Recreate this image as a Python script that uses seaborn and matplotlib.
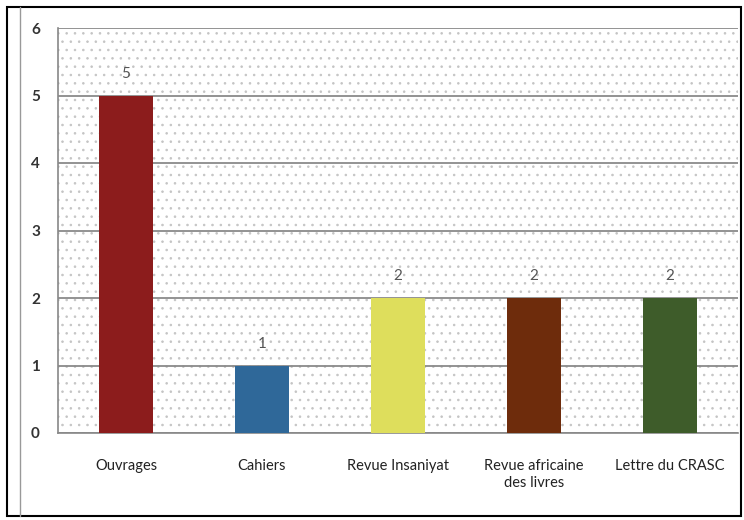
import matplotlib
matplotlib.use("Agg")
import matplotlib.pyplot as plt
import seaborn as sns
import pandas as pd
from matplotlib.patches import Rectangle
from matplotlib.lines import Line2D

categories = ["Ouvrages", "Cahiers", "Revue Insaniyat", "Revue africaine\ndes livres", "Lettre du CRASC"]
values = [5, 1, 2, 2, 2]
colors = ["#8c1c1c", "#2f6899", "#dede5c", "#6e2c0c", "#3e5c2a"]
y_ticks = [0, 1, 2, 3, 4, 5, 6]

sns.set_style("white")
plt.rcParams['font.family'] = ['Lato', 'DejaVu Sans']
plt.rcParams['hatch.color'] = '#c4c4c4'
plt.rcParams['hatch.linewidth'] = 0.6

df = pd.DataFrame({'cat': categories, 'val': values})

fig = plt.figure(figsize=(7.44, 5.2), dpi=100)
ax = fig.add_axes([58/744, 87/520, 680/744, 405/520])

# dotted background
ax.add_patch(Rectangle((0, 0), 1, 1, transform=ax.transAxes, facecolor='white',
                       edgecolor='#c4c4c4', hatch='..', linewidth=0, zorder=0))

ax.set_axisbelow(True)
ax.yaxis.grid(True, color='#8a8a8a', linewidth=1.3)
ax.xaxis.grid(False)

sns.barplot(data=df, x='cat', y='val', hue='cat', palette=colors, legend=False,
            width=0.4, ax=ax, zorder=3, edgecolor='none', saturation=1)

for i, v in enumerate(values):
    ax.text(i, v + 0.22, str(v), ha='center', va='bottom', fontsize=11, color='#555555')

ax.set_ylim(0, 6)
ax.set_xlim(-0.5, len(categories) - 0.5)
ax.set_yticks(y_ticks)
ax.set_yticklabels([str(t) for t in y_ticks], fontsize=11, fontweight='bold', color='#333333')
ax.set_xticks([i - 0.5 for i in range(1, len(categories) + 1)], minor=False)
ax.set_xticklabels([])
ax.set_xticks(range(len(categories)), minor=True)
ax.set_xticklabels(categories, minor=True, fontsize=10.5, color='#222222')
ax.tick_params(axis='x', which='minor', length=0, pad=19)
ax.tick_params(axis='x', which='major', length=6, color='#888888', direction='out')
ax.tick_params(axis='y', length=6, color='#888888', direction='out', pad=7)
ax.set_xlabel('')
ax.set_ylabel('')

for s in ['top', 'right']:
    ax.spines[s].set_visible(False)
for s in ['left', 'bottom']:
    ax.spines[s].set_color('#888888')
    ax.spines[s].set_linewidth(1.2)

# frame
fig.patches.append(Rectangle((7/744, 4/520), 734/744, 509/520, transform=fig.transFigure,
                             fill=False, edgecolor='black', linewidth=1.5))
fig.lines.append(Line2D([20/744, 20/744], [4/520, 513/520], transform=fig.transFigure,
                        color='#999999', linewidth=1))

fig.savefig('out.png', dpi=100)
